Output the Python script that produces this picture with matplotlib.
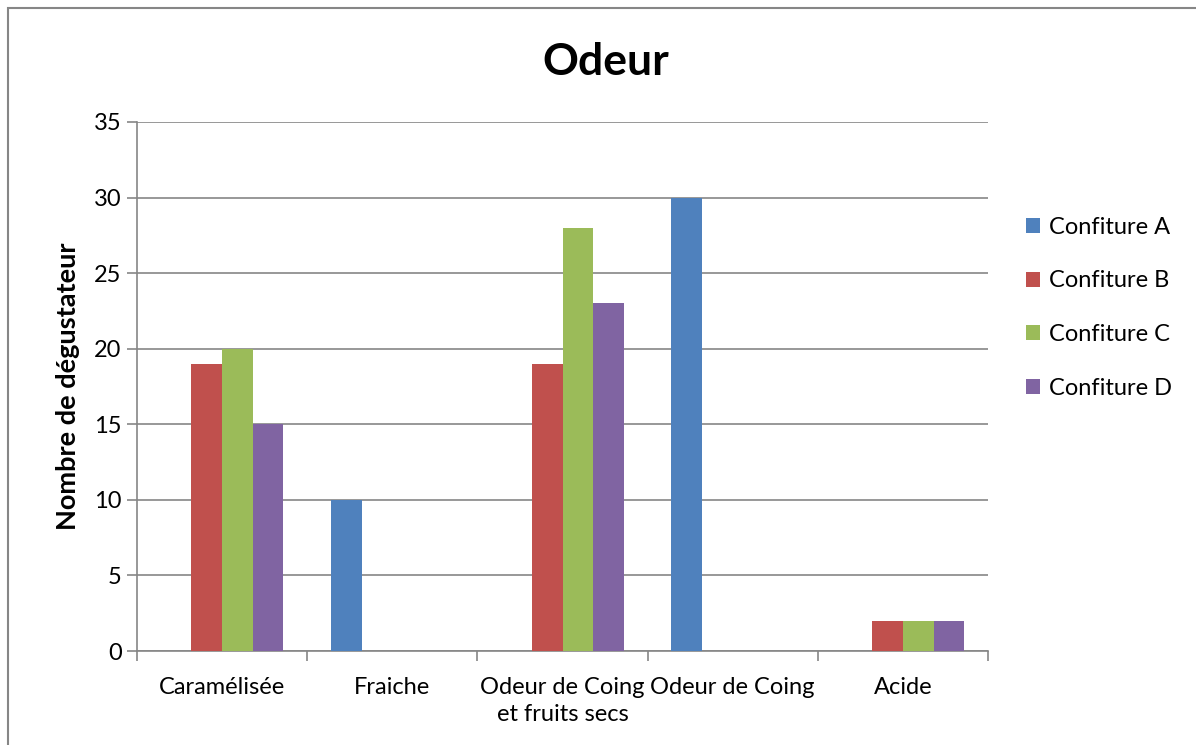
import matplotlib.pyplot as plt
import numpy as np
from matplotlib.patches import Rectangle

# Données
categories = ["Caramélisée", "Fraiche", "Odeur de Coing\net fruits secs", "Odeur de Coing", "Acide"]
series = ["Confiture A", "Confiture B", "Confiture C", "Confiture D"]
confiture_a = [0, 10, 0, 30, 0]
confiture_b = [19, 0, 19, 0, 2]
confiture_c = [20, 0, 28, 0, 2]
confiture_d = [15, 0, 23, 0, 2]
couleurs = ["#4F81BD", "#C0504D", "#9BBB59", "#8064A2"]
yticks = [0, 5, 10, 15, 20, 25, 30, 35]

plt.rcParams["font.family"] = ["Lato", "DejaVu Sans"]

fig = plt.figure(figsize=(11.96, 7.45), dpi=100)
ax = fig.add_axes([137 / 1196, 1 - 651 / 745, (988 - 137) / 1196, (651 - 122) / 745])

# cadre gris du graphique
fig.patches.append(Rectangle((8 / 1196, -0.1), 1.2, 1 - 8 / 745 + 0.1,
                             transform=fig.transFigure, fill=False,
                             edgecolor="#868686", linewidth=1.5))

x = np.arange(len(categories))
largeur = 0.18
valeurs = [confiture_a, confiture_b, confiture_c, confiture_d]
for i, (nom, vals) in enumerate(zip(series, valeurs)):
    ax.bar(x + (i - 1.5) * largeur, vals, width=largeur, color=couleurs[i],
           label=nom, zorder=3, linewidth=0)

ax.set_xlim(-0.5, len(categories) - 0.5)
ax.set_ylim(0, 35)
ax.set_yticks(yticks)
ax.set_xticks(x)
ax.set_xticklabels(categories, fontsize=17, linespacing=1.35)
ax.set_xticks(np.arange(-0.5, len(categories)), minor=True)
ax.tick_params(axis="x", which="major", length=0, pad=19)
ax.tick_params(axis="x", which="minor", length=7, color="#868686", width=1.2)
ax.tick_params(axis="y", length=7, color="#868686", width=1.2, labelsize=17, pad=4)

ax.grid(axis="y", color="#868686", linewidth=1.2, zorder=0)
for cote in ["top", "right"]:
    ax.spines[cote].set_visible(False)
for cote in ["left", "bottom"]:
    ax.spines[cote].set_color("#868686")
    ax.spines[cote].set_linewidth(1.2)

ax.set_ylabel("Nombre de dégustateur", fontsize=19.5, fontweight="bold", labelpad=10)
fig.text(606 / 1196, 1 - 62 / 745, "Odeur", fontsize=32, fontweight="bold",
         ha="center", va="center")

ax.legend(loc="center left", bbox_to_anchor=(1.02, 0.649), frameon=False,
          fontsize=17, handlelength=0.6, handleheight=0.6, handletextpad=0.35,
          labelspacing=1.38)

fig.savefig("out.png", dpi=100)
